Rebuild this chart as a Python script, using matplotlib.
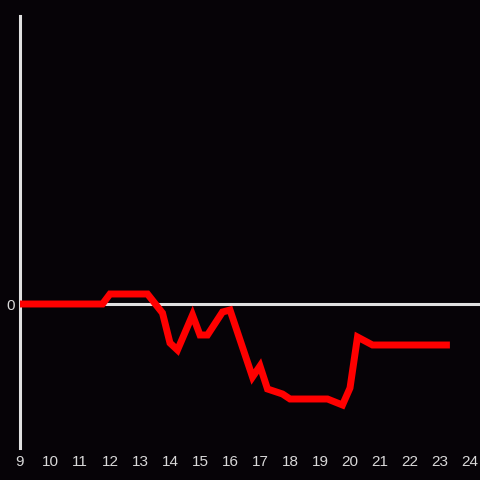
import matplotlib
matplotlib.use("Agg")
import matplotlib.pyplot as plt

# hours of day and value (relative to 0)
hours = [9, 11.75, 12.0, 13.25, 13.75, 14.0, 14.25, 14.75, 15.0, 15.25, 15.75,
         16.0, 16.75, 17.0, 17.25, 17.75, 18.0, 19.25, 19.75, 20.0, 20.25,
         20.75, 23.33]
values = [0, 0, 1.0, 1.0, -0.9, -3.9, -4.6, -1.1, -3.1, -3.1, -0.8,
          -0.6, -7.3, -6.2, -8.5, -9.0, -9.5, -9.5, -10.1, -8.4, -3.3,
          -4.1, -4.1]
xticks = list(range(9, 25))

bg = '#060307'
axis_col = '#e0e0e0'
text_col = '#d8d8d8'

fig = plt.figure(figsize=(4.8, 4.8), dpi=100, facecolor=bg)
ax = fig.add_axes([20 / 480, 32 / 480, 460 / 480, 432 / 480], facecolor=bg)

ax.plot(hours, values, color='#ff0000', lw=5, solid_joinstyle='miter',
        solid_capstyle='butt', zorder=3)
ax.axhline(0, color=axis_col, lw=2.2, zorder=2)

ax.set_xlim(9, 24 + 1 / 3)
ax.set_ylim(-14.4, 28.8)

for s in ['top', 'right', 'bottom']:
    ax.spines[s].set_visible(False)
ax.spines['left'].set_color(axis_col)
ax.spines['left'].set_linewidth(2.2)

ax.set_xticks(xticks)
ax.set_xticklabels([str(t) for t in xticks])
ax.set_yticks([0])
ax.set_yticklabels(['0'])
ax.tick_params(length=0, colors=text_col, labelsize=11)
ax.tick_params(axis='x', pad=5)
ax.tick_params(axis='y', pad=4)
for lbl in ax.get_xticklabels() + ax.get_yticklabels():
    lbl.set_fontfamily('Liberation Sans')

fig.savefig('out.png', dpi=100, facecolor=bg)
